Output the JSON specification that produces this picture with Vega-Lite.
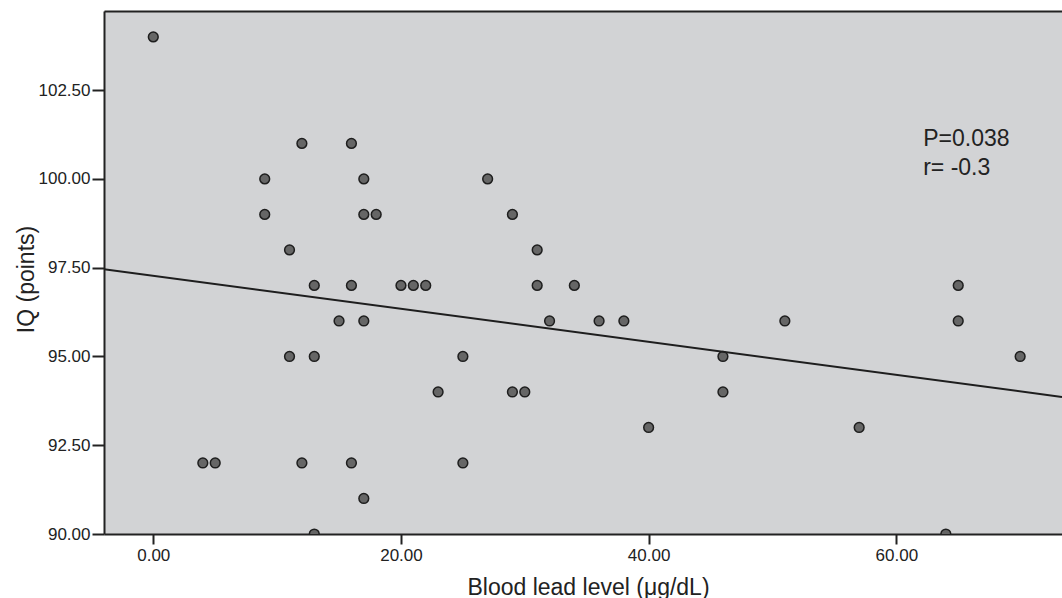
{
  "$schema": "https://vega.github.io/schema/vega-lite/v6.json",
  "width": 958,
  "height": 523,
  "autosize": "none",
  "padding": {"left": 104, "top": 11, "right": 0, "bottom": 64},
  "background": "white",
  "config": {
    "view": {"fill": "#d2d3d5", "stroke": null},
    "axis": {
      "grid": false,
      "domainColor": "#222222",
      "domainWidth": 2,
      "tickColor": "#222222",
      "tickWidth": 2,
      "labelFont": "Liberation Sans",
      "labelFontSize": 17,
      "labelColor": "#222222",
      "labelFlush": false,
      "labelOverlap": false,
      "titleFont": "Liberation Sans",
      "titleFontSize": 23,
      "titleFontWeight": "normal",
      "titleColor": "#222222"
    }
  },
  "datasets": {
    "pts": [
      {"lead": 0, "iq": 104}, {"lead": 12, "iq": 101}, {"lead": 16, "iq": 101},
      {"lead": 9, "iq": 100}, {"lead": 17, "iq": 100}, {"lead": 27, "iq": 100},
      {"lead": 9, "iq": 99}, {"lead": 17, "iq": 99}, {"lead": 18, "iq": 99}, {"lead": 29, "iq": 99},
      {"lead": 11, "iq": 98}, {"lead": 31, "iq": 98},
      {"lead": 13, "iq": 97}, {"lead": 16, "iq": 97}, {"lead": 20, "iq": 97}, {"lead": 21, "iq": 97},
      {"lead": 22, "iq": 97}, {"lead": 31, "iq": 97}, {"lead": 34, "iq": 97}, {"lead": 65, "iq": 97},
      {"lead": 15, "iq": 96}, {"lead": 17, "iq": 96}, {"lead": 32, "iq": 96}, {"lead": 36, "iq": 96},
      {"lead": 38, "iq": 96}, {"lead": 51, "iq": 96}, {"lead": 65, "iq": 96},
      {"lead": 11, "iq": 95}, {"lead": 13, "iq": 95}, {"lead": 25, "iq": 95}, {"lead": 46, "iq": 95}, {"lead": 70, "iq": 95},
      {"lead": 23, "iq": 94}, {"lead": 29, "iq": 94}, {"lead": 30, "iq": 94}, {"lead": 46, "iq": 94},
      {"lead": 40, "iq": 93}, {"lead": 57, "iq": 93},
      {"lead": 4, "iq": 92}, {"lead": 5, "iq": 92}, {"lead": 12, "iq": 92}, {"lead": 16, "iq": 92}, {"lead": 25, "iq": 92},
      {"lead": 17, "iq": 91},
      {"lead": 13, "iq": 90}, {"lead": 64, "iq": 90}
    ],
    "fit": [
      {"lead": -3.98, "iq": 97.46},
      {"lead": 73.38, "iq": 93.86}
    ],
    "notes": [
      {"lead": 62.17, "iq": 100.93, "label": "P=0.038"},
      {"lead": 62.17, "iq": 100.11, "label": "r= -0.3"}
    ]
  },
  "layer": [
    {
      "data": {"name": "pts"},
      "mark": {"type": "point", "filled": true, "fill": "#666666", "stroke": "#1e1e1e", "strokeWidth": 1.5, "size": 95, "opacity": 1, "clip": true},
      "encoding": {
        "x": {
          "field": "lead", "type": "quantitative",
          "scale": {"domain": [-3.98, 73.38], "nice": false, "zero": false},
          "axis": {"values": [0, 20, 40, 60], "format": ".2f", "tickSize": 10, "labelPadding": 3, "title": "Blood lead level (μg/dL)", "titleX": 484, "titleY": 60, "titleBaseline": "alphabetic"}
        },
        "y": {
          "field": "iq", "type": "quantitative",
          "scale": {"domain": [90, 104.73], "nice": false, "zero": false},
          "axis": {"values": [90, 92.5, 95, 97.5, 100, 102.5], "format": ".2f", "tickSize": 12, "labelPadding": 2, "title": "IQ (points)", "titleX": -71, "titleY": 268, "titleBaseline": "alphabetic"}
        }
      }
    },
    {
      "data": {"name": "fit"},
      "mark": {"type": "line", "color": "#1e1e1e", "strokeWidth": 2, "clip": true},
      "encoding": {
        "x": {"field": "lead", "type": "quantitative", "axis": {"orient": "top", "labels": false, "ticks": false, "title": null, "domain": true}},
        "y": {"field": "iq", "type": "quantitative"}
      }
    },
    {
      "data": {"name": "notes"},
      "mark": {"type": "text", "align": "left", "baseline": "alphabetic", "font": "Liberation Sans", "fontSize": 23, "color": "#222222"},
      "encoding": {
        "x": {"field": "lead", "type": "quantitative", "axis": null},
        "y": {"field": "iq", "type": "quantitative"},
        "text": {"field": "label"}
      }
    }
  ],
  "resolve": {"axis": {"x": "independent"}}
}
